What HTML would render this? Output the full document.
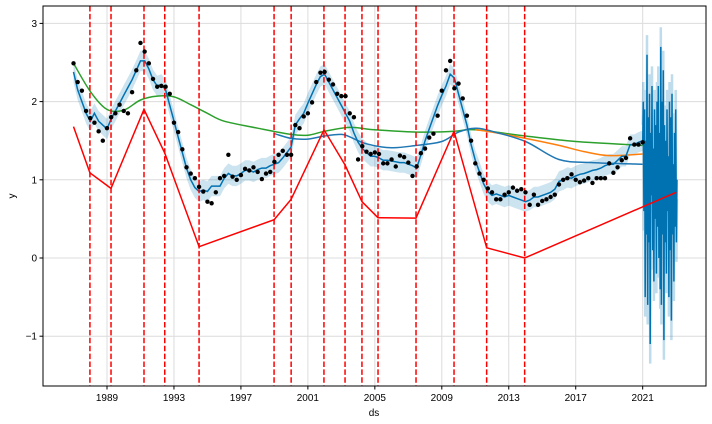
<!DOCTYPE html>
<html><head><meta charset="utf-8"><style>
body{margin:0;background:#fff;}
svg{display:block;font-family:"Liberation Sans","DejaVu Sans",sans-serif;}
</style></head><body>
<svg id="chart" width="712" height="424">
<rect width="712" height="424" fill="#fff"/>
<g id="grid"></g>
<g id="band"></g>
<g id="lines"></g>
<g id="cps"></g>
<g id="dots"></g>
<g id="axes"></g>
</svg>
<script>
const xTicks=[1989,1993,1997,2001,2005,2009,2013,2017,2021];
const yTicks=[-1,0,1,2,3];
const yTickLabels=["\u22121","0","1","2","3"];
const obsStart=1987.0;
const observed=[2.49,2.25,2.14,1.88,1.79,1.73,1.62,1.50,1.66,1.80,1.85,1.96,1.88,1.85,2.12,2.40,2.75,2.64,2.49,2.29,2.19,2.20,2.19,2.10,1.73,1.61,1.39,1.16,1.08,1.02,0.91,0.85,0.72,0.70,0.84,1.02,1.05,1.32,1.04,1.00,1.06,1.14,1.12,1.16,1.10,1.01,1.08,1.10,1.23,1.32,1.37,1.32,1.32,1.70,1.66,1.81,1.85,1.99,2.25,2.37,2.38,2.28,2.22,2.10,2.07,2.07,1.85,1.80,1.26,1.43,1.36,1.33,1.35,1.33,1.21,1.21,1.26,1.17,1.31,1.29,1.22,1.05,1.17,1.34,1.40,1.54,1.59,1.82,2.14,2.40,2.52,2.17,2.23,2.04,1.82,1.50,1.21,1.08,1.00,0.89,0.84,0.75,0.75,0.81,0.84,0.90,0.86,0.88,0.84,0.68,0.81,0.68,0.73,0.75,0.78,0.81,0.94,1.00,1.02,1.07,1.00,0.97,0.99,1.02,0.96,1.02,1.02,1.02,1.21,1.09,1.16,1.25,1.28,1.53,1.45,1.45,1.48];
const fitted=[2.38,2.15,2.0,1.85,1.75,1.85,1.75,1.70,1.65,1.78,1.88,1.98,2.08,2.18,2.28,2.40,2.52,2.52,2.42,2.28,2.20,2.22,2.15,1.95,1.75,1.55,1.35,1.15,1.00,0.90,0.85,0.87,0.85,0.92,0.92,0.92,1.02,1.08,1.05,1.05,1.08,1.12,1.12,1.10,1.13,1.15,1.15,1.18,1.20,1.22,1.28,1.35,1.42,1.70,1.78,1.85,1.98,2.10,2.22,2.32,2.35,2.25,2.15,2.05,1.95,1.85,1.75,1.60,1.48,1.40,1.35,1.30,1.30,1.28,1.25,1.25,1.24,1.23,1.22,1.22,1.20,1.18,1.15,1.32,1.50,1.65,1.80,1.95,2.08,2.20,2.35,2.30,2.10,1.90,1.70,1.45,1.25,1.10,0.95,0.85,0.80,0.82,0.80,0.78,0.80,0.78,0.76,0.74,0.72,0.74,0.78,0.78,0.80,0.82,0.84,0.88,0.98,1.00,1.03,1.02,1.05,1.07,1.08,1.10,1.12,1.13,1.15,1.18,1.20,1.20,1.25,1.30,1.30,1.45,1.45,1.48,1.50];
const forecastStart=2021.0, forecastEnd=2023.05;
const forecast=[1.45,2.0,0.6,1.9,-0.5,1.5,0.3,2.6,-0.6,1.8,0.2,2.1,-1.1,1.6,0.8,2.2,0.1,1.4,-0.3,1.9,0.5,1.7,-0.2,2.0,0.4,2.2,0.0,1.6,-0.4,2.7,-0.6,2.0,0.3,2.4,-1.05,1.7,0.2,1.5,-0.2,1.9,0.6,1.3,-0.5,2.0,0.1,1.8,-0.8,2.1,0.3,1.2,-0.3,1.6,0.4,1.9,0.2,1.0];
const changepoints=[1987.98,1989.24,1991.21,1992.45,1994.50,1998.98,2000.0,2001.96,2003.22,2004.23,2005.19,2007.46,2009.73,2011.68,2013.95];
const trendX=[1987.0,1987.98,1989.24,1991.21,1992.45,1994.50,1998.98,2000.0,2001.96,2003.22,2004.23,2005.19,2007.46,2009.73,2011.68,2013.95,2023.0];
const trendY=[1.68,1.09,0.89,1.90,1.34,0.145,0.49,0.75,1.64,1.19,0.72,0.515,0.51,1.62,0.13,0.0,0.84];
const greenX=[1987.0,1988.0,1989.0,1990.0,1991.0,1992.0,1993.0,1994.0,1995.0,1996.0,1998.0,2000.0,2001.0,2002.0,2003.5,2005.0,2007.5,2009.7,2011.0,2014.0,2017.0,2021.0];
const greenY=[2.49,2.13,1.90,1.89,2.02,2.07,2.06,1.96,1.85,1.75,1.66,1.58,1.57,1.62,1.67,1.64,1.61,1.62,1.64,1.56,1.49,1.44];
const orangeX=[2011.0,2012.0,2014.0,2016.0,2017.5,2019.0,2021.0];
const orangeY=[1.64,1.61,1.53,1.44,1.36,1.31,1.33];
const blue2X=[1999.0,2000.0,2001.0,2002.0,2003.0,2003.5,2004.5,2006.0,2007.5,2009.0,2010.0,2011.0,2012.0,2014.0,2016.0,2018.0,2021.0];
const blue2Y=[1.59,1.53,1.52,1.56,1.58,1.55,1.46,1.41,1.44,1.49,1.61,1.66,1.62,1.49,1.26,1.22,1.20];

const L=43,R=706,T=6,B=386;
const X=v=>107+(v-1989)*16.74;
const Y=v=>258-v*78.2;
const NS="http://www.w3.org/2000/svg";
function mk(tag,parent,attrs){const e=document.createElementNS(NS,tag);for(const k in attrs)e.setAttribute(k,attrs[k]);document.getElementById(parent).appendChild(e);return e;}
const pts=(xs,ys)=>xs.map((x,i)=>X(x).toFixed(1)+","+Y(ys[i]).toFixed(1)).join(" ");
function smooth(xs,ys){const P=xs.map((x,i)=>[X(x),Y(ys[i])]);let d="M"+P[0][0].toFixed(1)+","+P[0][1].toFixed(1);
for(let i=0;i<P.length-1;i++){const p0=P[Math.max(0,i-1)],p1=P[i],p2=P[i+1],p3=P[Math.min(P.length-1,i+2)];
const c1=[p1[0]+(p2[0]-p0[0])/6,p1[1]+(p2[1]-p0[1])/6],c2=[p2[0]-(p3[0]-p1[0])/6,p2[1]-(p3[1]-p1[1])/6];
d+=" C"+c1.map(v=>v.toFixed(1)).join(",")+" "+c2.map(v=>v.toFixed(1)).join(",")+" "+p2[0].toFixed(1)+","+p2[1].toFixed(1);}return d;}

xTicks.forEach(t=>{const e=mk("line","grid",{x1:X(t),x2:X(t),y1:T,y2:B,stroke:"#dcdcdc","stroke-width":1});

});
yTicks.forEach(t=>{const e=mk("line","grid",{x1:L,x2:R,y1:Y(t),y2:Y(t),stroke:"#dcdcdc","stroke-width":1});

});

const obsX=observed.map((v,i)=>obsStart+i*0.25);
const fitX=fitted.map((v,i)=>obsStart+i*0.25);
const fcX=forecast.map((v,i)=>forecastStart+i*(forecastEnd-forecastStart)/(forecast.length-1));
const bw=0.13;
let up=fitX.map((x,i)=>X(x).toFixed(1)+","+Y(fitted[i]+bw).toFixed(1));
let lo=fitX.map((x,i)=>X(x).toFixed(1)+","+Y(fitted[i]-bw).toFixed(1)).reverse();
let band=mk("polygon","band",{points:up.concat(lo).join(" "),fill:"#0072B2","fill-opacity":0.2});


let fu=fcX.map((x,i)=>X(x).toFixed(1)+","+Y(forecast[i]+(forecast[i]>1?0.25:-0.25)).toFixed(1));
let fb=mk("polyline","band",{points:fu.join(" "),fill:"none",stroke:"#0072B2","stroke-opacity":0.25,"stroke-width":2.5});



let g=mk("path","lines",{d:smooth(greenX,greenY),fill:"none",stroke:"#2ca02c","stroke-width":1.5});


let o=mk("path","lines",{d:smooth(orangeX,orangeY),fill:"none",stroke:"#ff7f0e","stroke-width":1.5});


let b2=mk("path","lines",{d:smooth(blue2X,blue2Y),fill:"none",stroke:"#1f77b4","stroke-width":1.5});


let yh=mk("polyline","lines",{points:pts(fitX,fitted)+" "+pts(fcX,forecast),fill:"none",stroke:"#0072B2","stroke-width":1.5});


let tr=mk("polyline","lines",{points:pts(trendX,trendY),fill:"none",stroke:"#ff0000","stroke-width":1.5});



changepoints.forEach(c=>{const e=mk("line","cps",{x1:X(c),x2:X(c),y1:T,y2:B,stroke:"#ff0000","stroke-width":1.5,"stroke-dasharray":"5.5,2.4"});

});

observed.forEach((v,i)=>{const e=mk("circle","dots",{cx:X(obsX[i]),cy:Y(v),r:2.2,fill:"#000"});

});

let fr=mk("rect","axes",{x:L,y:T,width:R-L,height:B-T,fill:"none",stroke:"#000","stroke-width":1});


xTicks.forEach(t=>{mk("line","axes",{x1:X(t),x2:X(t),y1:B,y2:B+3.5,stroke:"#000"});
const e=mk("text","axes",{x:X(t),y:B+15,"text-anchor":"middle","font-size":10,fill:"#000"});e.textContent=t;

});
yTicks.forEach((t,i)=>{mk("line","axes",{x1:L-3.5,x2:L,y1:Y(t),y2:Y(t),stroke:"#000"});
const e=mk("text","axes",{x:L-6,y:Y(t)+3.5,"text-anchor":"end","font-size":10,fill:"#000"});e.textContent=yTickLabels[i];

});
let xl=mk("text","axes",{x:374,y:416,"text-anchor":"middle","font-size":10,fill:"#000"});xl.textContent="ds";


let yl=mk("text","axes",{x:15,y:196,"text-anchor":"middle","font-size":10,fill:"#000",transform:"rotate(-90 15 196)"});yl.textContent="y";


</script>
</body></html>
